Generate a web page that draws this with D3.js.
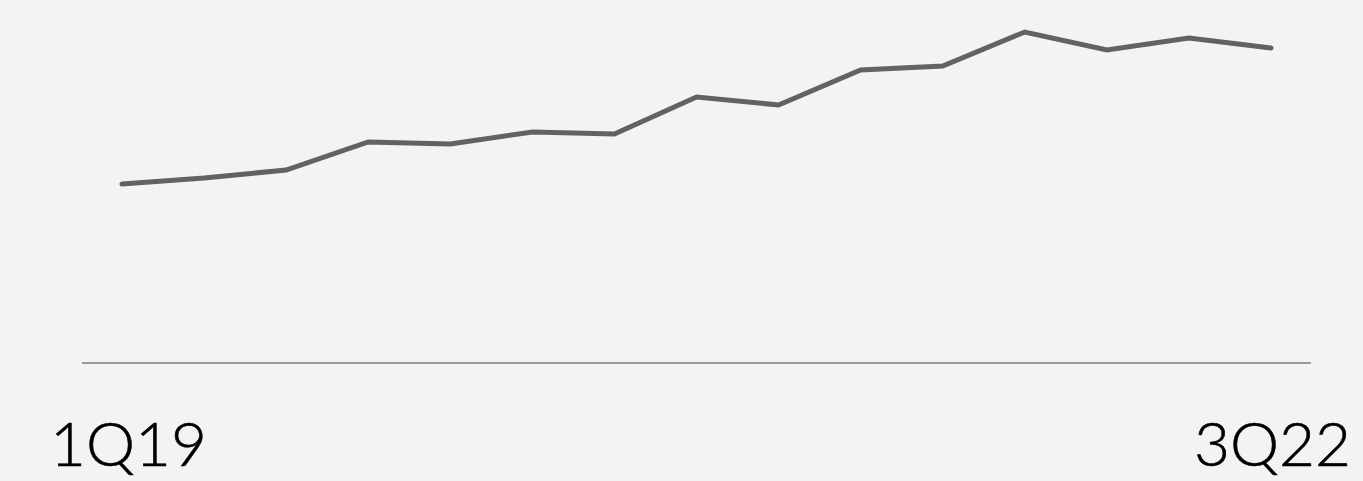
<!DOCTYPE html>
<html>
<head>
<meta charset="utf-8">
<script src="https://d3js.org/d3.v7.min.js"></script>
<style>
  html, body { margin: 0; padding: 0; background: #f3f3f3; }
  svg { display: block; }
</style>
</head>
<body>
<script>
var quarters = ["1Q19","2Q19","3Q19","4Q19","1Q20","2Q20","3Q20","4Q20","1Q21","2Q21","3Q21","4Q21","1Q22","2Q22","3Q22"];
var values = [179, 185, 193, 221, 219, 231, 229, 266, 258, 293, 297, 331, 313, 325, 315];
var endLabels = ["1Q19", "3Q22"];

var width = 1363, height = 481;
var baseY = 363;

var svg = d3.select("body").append("svg")
    .attr("width", width)
    .attr("height", height);

svg.append("rect")
    .attr("width", width)
    .attr("height", height)
    .attr("fill", "#f3f3f3");

var x = d3.scalePoint()
    .domain(quarters)
    .range([122, 1271]);

var y = d3.scaleLinear()
    .domain([0, 363])
    .range([baseY, 0]);

// baseline
svg.append("line")
    .attr("x1", 82)
    .attr("x2", 1311)
    .attr("y1", baseY)
    .attr("y2", baseY)
    .attr("stroke", "#9a9a9a")
    .attr("stroke-width", 2);

var line = d3.line()
    .x(function(d, i){ return x(quarters[i]); })
    .y(function(d){ return y(d); });

svg.append("path")
    .datum(values)
    .attr("d", line)
    .attr("fill", "none")
    .attr("stroke", "#626262")
    .attr("stroke-width", 5)
    .attr("stroke-linecap", "round")
    .attr("stroke-linejoin", "miter");

svg.append("text")
    .attr("x", 50)
    .attr("y", 466)
    .attr("font-family", "Lato, 'DejaVu Sans', sans-serif")
    .attr("font-weight", 300)
    .attr("font-size", 62)
    .attr("stroke", "#000")
    .attr("stroke-width", 0.6)
    .attr("fill", "#000")
    .text(endLabels[0]);

svg.append("text")
    .attr("x", 1351)
    .attr("y", 466)
    .attr("text-anchor", "end")
    .attr("font-family", "Lato, 'DejaVu Sans', sans-serif")
    .attr("font-weight", 300)
    .attr("font-size", 62)
    .attr("stroke", "#000")
    .attr("stroke-width", 0.6)
    .attr("fill", "#000")
    .text(endLabels[1]);
</script>
</body>
</html>
